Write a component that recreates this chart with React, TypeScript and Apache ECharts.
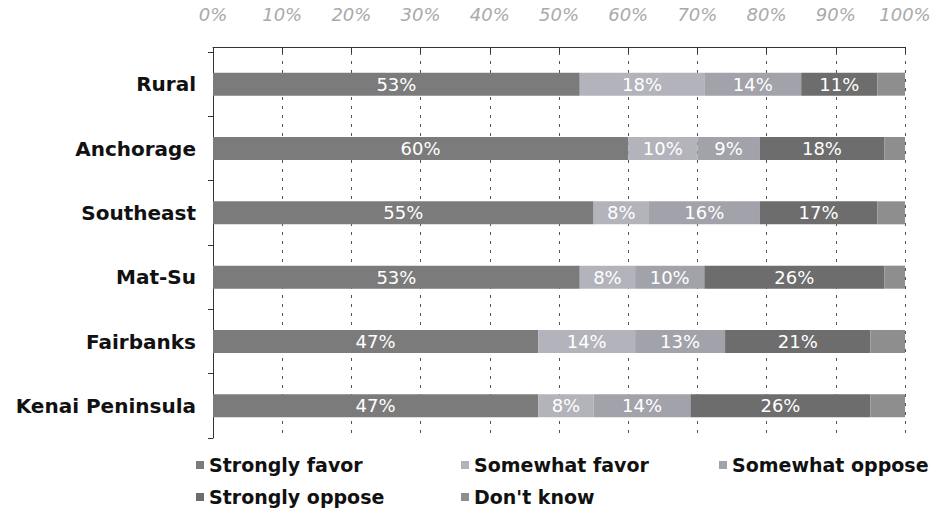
import React, { useEffect, useRef } from "react";
import * as echarts from "echarts";

const categories = ["Rural", "Anchorage", "Southeast", "Mat-Su", "Fairbanks", "Kenai Peninsula"];
const stronglyFavor = [53, 60, 55, 53, 47, 47];
const somewhatFavor = [18, 10, 8, 8, 14, 8];
const somewhatOppose = [14, 9, 16, 10, 13, 14];
const stronglyOppose = [11, 18, 17, 26, 21, 26];
const dontKnow = [4, 3, 4, 3, 5, 5];
const seriesNames = ["Strongly favor", "Somewhat favor", "Somewhat oppose", "Strongly oppose", "Don't know"];
const colors = ["#7b7b7b", "#b3b3bb", "#a2a2aa", "#6d6d6d", "#8e8e8e"];

const FONT = "DejaVu Sans";

export default function App() {
  const ref = useRef<HTMLDivElement>(null);
  useEffect(() => {
    const chart = echarts.init(ref.current!, null, { renderer: "svg" });
    const values = [stronglyFavor, somewhatFavor, somewhatOppose, stronglyOppose, dontKnow];
    const series = seriesNames.map((name, i) => ({
      name,
      type: "bar" as const,
      stack: "total",
      barWidth: 23,
      data: values[i],
      itemStyle: { color: colors[i] },
      label: {
        show: i < 4,
        position: "inside" as const,
        formatter: "{c}%",
        color: "#ffffff",
        fontFamily: FONT,
        fontSize: 18,
      },
    }));
    const legendText = { fontFamily: FONT, fontSize: 19, fontWeight: "bold" as const, color: "#111", lineHeight: 24 };
    const legendPos: [string, number, number][] = [
      ["Strongly favor", 196, 453],
      ["Somewhat favor", 461, 453],
      ["Somewhat oppose", 719, 453],
      ["Strongly oppose", 196, 485],
      ["Don't know", 461, 485],
    ];
    const legend = legendPos.map(([name, left, top]) => ({
      data: [name],
      left,
      top,
      itemWidth: 8,
      itemHeight: 8,
      itemGap: 4,
      padding: 0,
      icon: "rect",
      textStyle: legendText,
    }));
    chart.setOption({
      animation: false,
      backgroundColor: "#ffffff",
      grid: { left: 213, right: 33, top: 52, height: 386 },
      xAxis: {
        type: "value",
        position: "top",
        offset: 5,
        min: 0,
        max: 100,
        interval: 10,
        axisLine: { show: true, lineStyle: { color: "#333", width: 1 } },
        axisTick: { show: true, inside: true, length: 6, lineStyle: { color: "#333" } },
        axisLabel: {
          formatter: "{value}%",
          margin: 24,
          color: "#aaaaaa",
          fontStyle: "italic",
          fontFamily: FONT,
          fontSize: 18,
        },
        splitLine: { show: true, lineStyle: { color: "#555", type: [3, 6], width: 1 } },
      },
      yAxis: {
        type: "category",
        data: categories,
        inverse: true,
        axisLine: { show: true, lineStyle: { color: "#333" } },
        axisTick: { show: true, length: 5, lineStyle: { color: "#333" } },
        axisLabel: { color: "#111", fontFamily: FONT, fontSize: 20, fontWeight: "bold", margin: 17 },
      },
      legend,
      series,
    });
    return () => chart.dispose();
  }, []);
  return <div ref={ref} style={{ width: 938, height: 513, position: "absolute", left: 0, top: 0 }} />;
}
